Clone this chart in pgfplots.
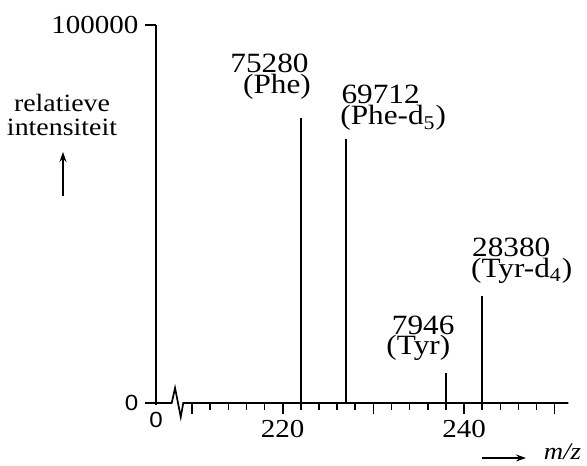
\documentclass[border=0pt]{standalone}
\usepackage{pgfplots}
\pgfplotsset{compat=1.18}
\usetikzlibrary{arrows.meta}
\usepackage{fontspec}
\setmainfont{Liberation Serif}[FakeStretch=1.12]
\setsansfont{Liberation Sans}[FakeStretch=1.1]
\tikzset{pk/.style={anchor=base west, inner sep=0, font=\fontsize{14}{16}\selectfont}}
\begin{document}
\begin{tikzpicture}
\begin{axis}[
  scale only axis, width=206.15bp, height=189bp,
  xmin=206.02, xmax=251.5, ymin=0, ymax=100000,
  clip=false,
  axis x line*=bottom, axis y line*=left,
  x axis line style={draw=none},
  y axis line style={-, line width=0.85bp},
  tick align=outside,
  tick style={black, line width=0.8bp},
  major tick length=5.3bp, minor tick length=3.3bp,
  xtick={210,220,230,240,250},
  xticklabels={,220,,240,},
  minor xtick={212,214,216,218,222,224,226,228,232,234,236,238,242,244,246,248},
  extra x ticks={206.02},
  extra x tick labels={\sffamily\fontsize{11}{13}\selectfont 0},
  extra x tick style={major tick length=1bp},
  ytick={0,100000},
  yticklabels={{\sffamily\fontsize{11}{13}\selectfont 0},100000},
  scaled y ticks=false,
  xticklabel style={font=\fontsize{13}{15}\selectfont},
  yticklabel style={font=\fontsize{13}{15}\selectfont},
]
\addplot[ycomb, black, line width=0.9bp, mark=none] coordinates {(222,75280) (227,69712) (238,7946) (242,28380)};

\draw[line width=0.85bp] (axis cs:206.02,0) -- (axis cs:207.755,0) -- (axis cs:208.12,3968) -- (axis cs:208.75,-3704) -- (axis cs:209.03,0) -- (axis cs:251.5,0);

\node[pk] at (axis cs:214.19,87381) {75280};
\node[pk] at (axis cs:215.59,81746) {(Phe)};
\node[pk] at (axis cs:226.45,79101) {69712};
\node[pk] at (axis cs:226.32,73545) {(Phe-d\textsubscript{5})};
\node[pk] at (axis cs:232.0,18175) {7946};
\node[pk] at (axis cs:231.4,12698) {(Tyr)};
\node[pk] at (axis cs:240.85,38704) {28380};
\node[pk] at (axis cs:240.74,33148) {(Tyr-d\textsubscript{4})};

\node[anchor=base, inner sep=0, font=\fontsize{12.5}{15}\selectfont] at (rel axis cs:-0.228,0.7706) {relatieve};
\node[anchor=base, inner sep=0, font=\fontsize{12.5}{15}\selectfont] at (rel axis cs:-0.228,0.7063) {intensiteit};
\draw[line width=0.6bp, -{Stealth[length=5bp, width=3.5bp]}] (rel axis cs:-0.2256,0.5476) -- (rel axis cs:-0.2256,0.664);

\draw[line width=0.6bp, -{Stealth[length=5bp, width=3.5bp]}] (rel axis cs:0.7907,-0.1455) -- (rel axis cs:0.8974,-0.1455);
\node[anchor=base west, inner sep=0, font=\fontsize{12}{14}\selectfont\itshape] at (rel axis cs:0.94,-0.1508) {m/z};

\coordinate (bbA) at (rel axis cs:-0.3784,-0.1667);
\coordinate (bbB) at (rel axis cs:1.0454,1.0661);
\end{axis}
\pgfresetboundingbox
\path[use as bounding box] (bbA) rectangle (bbB);
\end{tikzpicture}
\end{document}
